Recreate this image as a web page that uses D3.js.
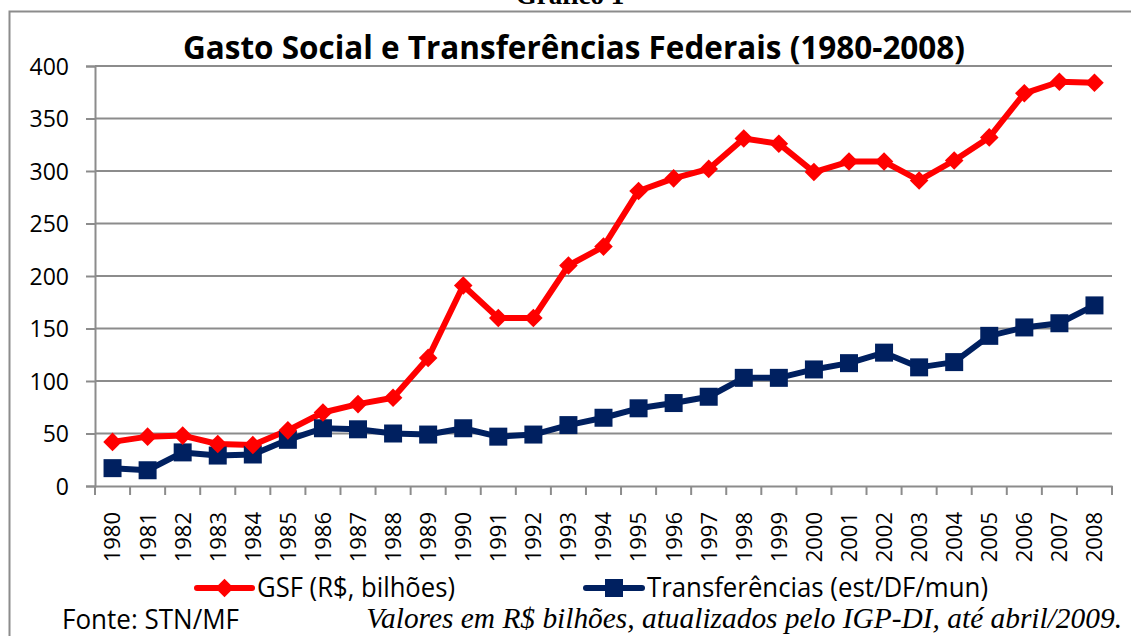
<!DOCTYPE html>
<html lang="pt">
<head>
<meta charset="UTF-8">
<title>Gasto Social e Transferências Federais</title>
<script src="https://cdn.jsdelivr.net/npm/d3@7"></script>
<style>
  body { margin: 0; background: #fff; }
  svg { display: block; }
</style>
</head>
<body>
<script>
// data (R$ bilhões)
const years = ["1980","1981","1982","1983","1984","1985","1986","1987","1988","1989",
               "1990","1991","1992","1993","1994","1995","1996","1997","1998","1999",
               "2000","2001","2002","2003","2004","2005","2006","2007","2008"];
const gsf = [42, 47, 48, 40, 39, 53, 70, 78, 84, 122,
             191, 160, 160, 210, 228, 281, 293, 302, 331, 326,
             299, 309, 309, 291, 310, 332, 374, 385, 384];
const transf = [17, 15, 32, 29, 30, 44, 55, 54, 50, 49,
                55, 47, 49, 58, 65, 74, 79, 85, 103, 103,
                111, 117, 127, 113, 118, 143, 151, 155, 172];
const yTicks = [0, 50, 100, 150, 200, 250, 300, 350, 400];
const seriesNames = ["GSF (R$, bilhões)", "Transferências (est/DF/mun)"];

const width = 1131, height = 636;
const plotLeft = 95, plotRight = 1112, plotTop = 66, plotBottom = 486;
const sans = "'Open Sans', 'Liberation Sans', sans-serif";
const grid = "#8c8c8c";

const svg = d3.select("body").append("svg")
  .attr("width", width).attr("height", height);

// chart frame (runs off the right and bottom of the picture)
svg.append("rect")
  .attr("x", 9.5).attr("y", 11.5)
  .attr("width", 1140).attr("height", 700)
  .attr("fill", "none").attr("stroke", grid).attr("stroke-width", 2);

// caption above the frame, mostly cut off in the original too
svg.append("text")
  .attr("x", 570).attr("y", 4)
  .attr("text-anchor", "middle")
  .attr("font-family", "'Liberation Serif', serif")
  .attr("font-weight", "bold").attr("font-size", 27)
  .text("Gráfico 1");

svg.append("text")
  .attr("x", 574).attr("y", 59)
  .attr("text-anchor", "middle")
  .attr("font-family", sans)
  .attr("font-weight", "bold").attr("font-size", 32)
  .attr("textLength", 782).attr("lengthAdjust", "spacingAndGlyphs")
  .text("Gasto Social e Transferências Federais (1980-2008)");

const x = d3.scaleBand().domain(years).range([plotLeft, plotRight]);
const y = d3.scaleLinear().domain([0, 400]).range([plotBottom, plotTop]);

// y axis
const yAxis = svg.append("g")
  .attr("transform", `translate(${plotLeft},0)`)
  .call(d3.axisLeft(y).tickValues(yTicks).tickSize(9).tickPadding(17));
yAxis.select(".domain").attr("stroke", grid).attr("stroke-width", 2);
yAxis.selectAll(".tick line").attr("stroke", grid).attr("stroke-width", 2);
yAxis.selectAll(".tick text")
  .attr("font-family", sans).attr("font-size", 23).attr("fill", "#000")
  .attr("dy", "0.36em");

// horizontal gridlines
svg.append("g").selectAll("line")
  .data(yTicks.filter(d => d > 0))
  .join("line")
  .attr("x1", plotLeft).attr("x2", plotRight)
  .attr("y1", d => y(d)).attr("y2", d => y(d))
  .attr("stroke", grid).attr("stroke-width", 2);

// x axis: ticks between categories
const xAxis = svg.append("g")
  .attr("transform", `translate(0,${plotBottom})`)
  .call(d3.axisBottom(x).tickSize(0).tickPadding(0));
xAxis.select(".domain").attr("stroke", grid).attr("stroke-width", 2);
xAxis.selectAll(".tick text")
  .attr("font-family", sans).attr("font-size", 22).attr("fill", "#000")
  .attr("transform", "rotate(-90)")
  .attr("text-anchor", "end")
  .attr("x", -26).attr("y", 0).attr("dy", "0.36em");

svg.append("g").selectAll("line")
  .data(years.concat([null]))
  .join("line")
  .attr("x1", (d, i) => plotLeft + i * x.step()).attr("x2", (d, i) => plotLeft + i * x.step())
  .attr("y1", plotBottom).attr("y2", plotBottom + 9)
  .attr("stroke", grid).attr("stroke-width", 2);

const cx = d => x(d) + x.bandwidth() / 2;
const line = d3.line().x((d, i) => cx(years[i])).y(d => y(d));

const red = "#ff0000", navy = "#002060";

svg.append("path").datum(gsf)
  .attr("d", line).attr("fill", "none")
  .attr("stroke", red).attr("stroke-width", 6).attr("stroke-linejoin", "round");
svg.append("path").datum(transf)
  .attr("d", line).attr("fill", "none")
  .attr("stroke", navy).attr("stroke-width", 6).attr("stroke-linejoin", "round");

const diamond = d3.symbol().type(d3.symbolDiamond2).size(220);
const square = d3.symbol().type(d3.symbolSquare).size(324);

svg.append("g").selectAll("path")
  .data(transf).join("path")
  .attr("d", square)
  .attr("transform", (d, i) => `translate(${cx(years[i])},${y(d)})`)
  .attr("fill", navy);

svg.append("g").selectAll("path")
  .data(gsf).join("path")
  .attr("d", diamond)
  .attr("transform", (d, i) => `translate(${cx(years[i])},${y(d)})`)
  .attr("fill", red);

// legend
const legend = [
  { name: seriesNames[0], color: red, sym: diamond, x0: 197, x1: 252, tx: 257, w: 198 },
  { name: seriesNames[1], color: navy, sym: square, x0: 586, x1: 642, tx: 647, w: 341 }
];
const lg = svg.append("g").selectAll("g").data(legend).join("g");
lg.append("line")
  .attr("x1", d => d.x0).attr("x2", d => d.x1)
  .attr("y1", 588).attr("y2", 588)
  .attr("stroke", d => d.color).attr("stroke-width", 6).attr("stroke-linecap", "round");
lg.append("path")
  .attr("d", d => d.sym())
  .attr("transform", d => `translate(${(d.x0 + d.x1) / 2},588)`)
  .attr("fill", d => d.color);
lg.append("text")
  .attr("x", d => d.tx).attr("y", 597)
  .attr("font-family", sans).attr("font-size", 28)
  .attr("textLength", d => d.w).attr("lengthAdjust", "spacingAndGlyphs")
  .text(d => d.name);

// footer
svg.append("text")
  .attr("x", 62).attr("y", 629)
  .attr("font-family", sans).attr("font-size", 27)
  .attr("textLength", 177).attr("lengthAdjust", "spacingAndGlyphs")
  .text("Fonte: STN/MF");
svg.append("text")
  .attr("x", 1122).attr("y", 628)
  .attr("text-anchor", "end")
  .attr("font-family", "'Liberation Serif', serif")
  .attr("font-style", "italic").attr("font-size", 29.4)
  .text("Valores em R$ bilhões, atualizados pelo IGP-DI, até abril/2009.");
</script>
</body>
</html>
